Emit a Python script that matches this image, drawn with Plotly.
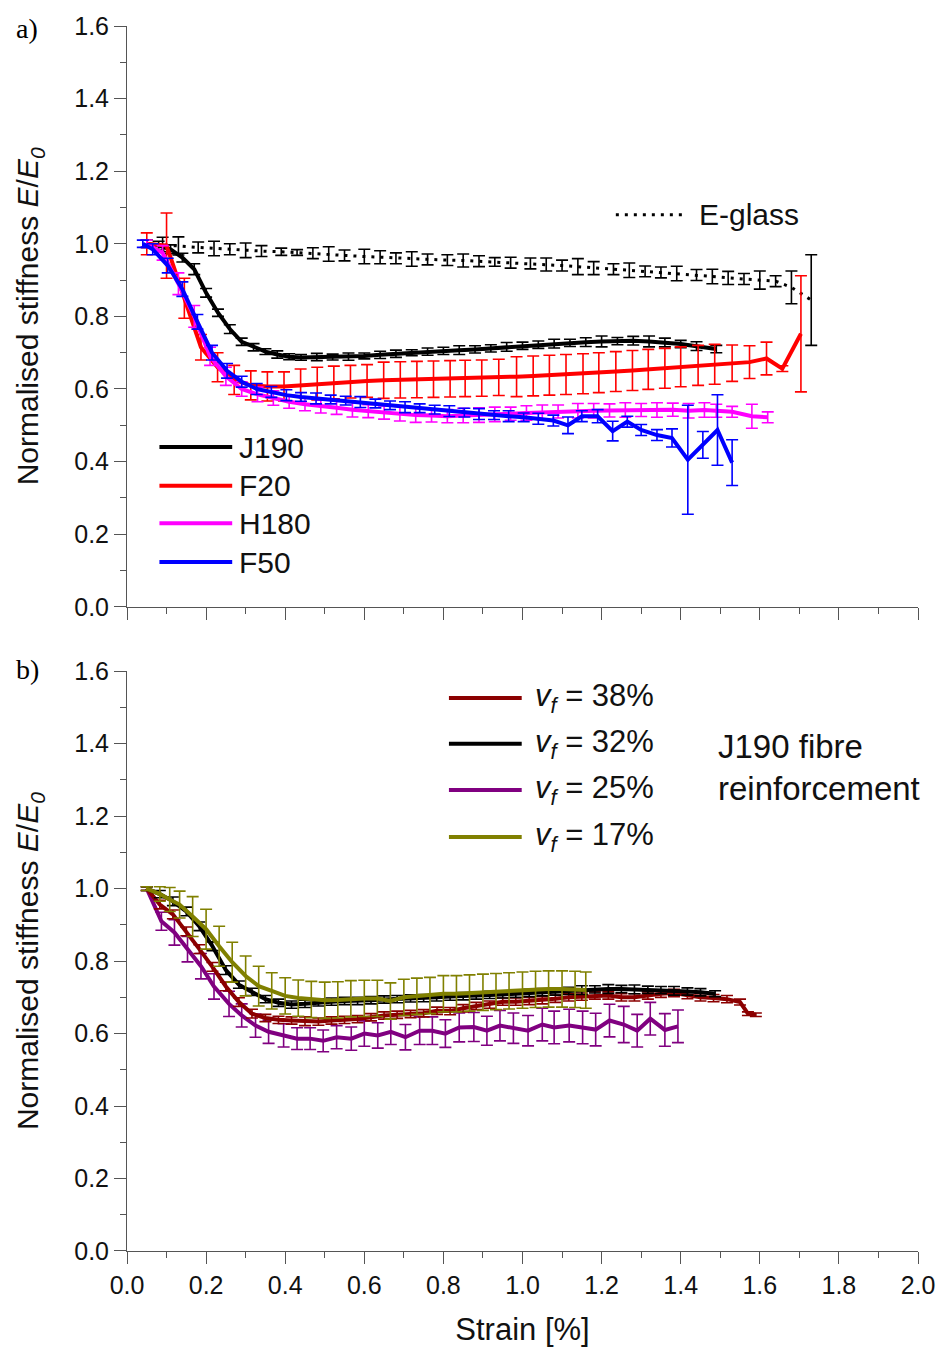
import plotly.graph_objects as go

# ---------------- Panel a: fibre types ----------------
EG_x = [0.05, 0.09, 0.13, 0.18, 0.22, 0.26, 0.30, 0.34, 0.39, 0.43,
        0.47, 0.51, 0.55, 0.60, 0.64, 0.68, 0.72, 0.76, 0.81, 0.85,
        0.89, 0.93, 0.97, 1.02, 1.06, 1.10, 1.14, 1.18, 1.23, 1.27,
        1.31, 1.35, 1.39, 1.44, 1.48, 1.52, 1.56, 1.60, 1.64, 1.68, 1.73]
EG_y = [1.00, 0.998, 0.994, 0.99, 0.987, 0.985, 0.982, 0.98, 0.978, 0.976,
        0.974, 0.972, 0.968, 0.965, 0.963, 0.96, 0.958, 0.957, 0.955, 0.954,
        0.952, 0.95, 0.948, 0.946, 0.943, 0.94, 0.937, 0.933, 0.93, 0.927,
        0.924, 0.921, 0.918, 0.914, 0.91, 0.906, 0.903, 0.90, 0.897, 0.88, 0.845]
EG_err = [0.01, 0.02, 0.025, 0.015, 0.02, 0.015, 0.02, 0.015, 0.01, 0.008,
          0.015, 0.02, 0.015, 0.02, 0.018, 0.015, 0.02, 0.015, 0.015, 0.018,
          0.015, 0.012, 0.015, 0.015, 0.018, 0.015, 0.022, 0.018, 0.015, 0.02,
          0.015, 0.015, 0.02, 0.015, 0.02, 0.018, 0.015, 0.025, 0.015, 0.045, 0.125]

J190_x = [0.05, 0.08, 0.11, 0.14, 0.17, 0.20, 0.23, 0.26, 0.29, 0.32,
          0.35, 0.38, 0.41, 0.44, 0.48, 0.52, 0.56, 0.60, 0.64, 0.68,
          0.72, 0.76, 0.80, 0.84, 0.88, 0.92, 0.96, 1.00, 1.04, 1.08,
          1.12, 1.16, 1.20, 1.24, 1.28, 1.32, 1.36, 1.40, 1.44, 1.49]
J190_y = [1.00, 0.995, 0.985, 0.962, 0.93, 0.865, 0.81, 0.765, 0.73, 0.715,
          0.703, 0.695, 0.689, 0.687, 0.688, 0.688, 0.689, 0.691, 0.694, 0.697,
          0.70, 0.703, 0.705, 0.707, 0.709, 0.712, 0.716, 0.719, 0.722, 0.725,
          0.727, 0.729, 0.731, 0.732, 0.733, 0.731, 0.728, 0.724, 0.718, 0.71]
J190_err = [0.01, 0.012, 0.012, 0.012, 0.015, 0.012, 0.01, 0.012, 0.01, 0.01,
            0.008, 0.01, 0.008, 0.008, 0.01, 0.008, 0.01, 0.008, 0.01, 0.01,
            0.008, 0.01, 0.01, 0.012, 0.01, 0.01, 0.012, 0.01, 0.01, 0.012,
            0.01, 0.012, 0.015, 0.01, 0.012, 0.015, 0.012, 0.01, 0.012, 0.01]

F20_x = [0.05, 0.10, 0.145, 0.187, 0.229, 0.271, 0.313, 0.355, 0.397, 0.439,
         0.481, 0.523, 0.565, 0.607, 0.649, 0.691, 0.733, 0.775, 0.817, 0.855,
         0.897, 0.94, 0.985, 1.027, 1.068, 1.11, 1.153, 1.193, 1.236, 1.278,
         1.318, 1.36, 1.40, 1.444, 1.486, 1.53, 1.574, 1.617, 1.657, 1.704]
F20_y = [1.00, 0.995, 0.85, 0.715, 0.66, 0.625, 0.61, 0.607, 0.607, 0.61,
         0.615, 0.618, 0.62, 0.622, 0.624, 0.625, 0.626, 0.627, 0.628, 0.629,
         0.63, 0.632, 0.634, 0.636, 0.638, 0.64, 0.642, 0.645, 0.648, 0.651,
         0.654, 0.657, 0.661, 0.665, 0.668, 0.671, 0.674, 0.684, 0.656, 0.752]
F20_err = [0.03, 0.09, 0.055, 0.035, 0.04, 0.04, 0.04, 0.04, 0.04, 0.045,
           0.045, 0.045, 0.045, 0.045, 0.05, 0.05, 0.05, 0.05, 0.05, 0.05,
           0.05, 0.05, 0.055, 0.055, 0.055, 0.055, 0.055, 0.055, 0.055, 0.055,
           0.055, 0.055, 0.055, 0.055, 0.055, 0.05, 0.045, 0.045, 0.008, 0.16]

H180_x = [0.05, 0.09, 0.13, 0.17, 0.21, 0.25, 0.29, 0.33, 0.37, 0.41,
          0.45, 0.49, 0.53, 0.57, 0.61, 0.65, 0.69, 0.73, 0.77, 0.81,
          0.85, 0.89, 0.93, 0.97, 1.01, 1.05, 1.09, 1.14, 1.18, 1.22,
          1.26, 1.30, 1.34, 1.38, 1.42, 1.46, 1.49, 1.53, 1.58, 1.62]
H180_y = [1.00, 0.975, 0.89, 0.80, 0.69, 0.635, 0.60, 0.585, 0.575, 0.565,
          0.558, 0.552, 0.548, 0.543, 0.539, 0.535, 0.532, 0.528, 0.527, 0.525,
          0.527, 0.528, 0.53, 0.532, 0.534, 0.536, 0.538, 0.54, 0.54, 0.541,
          0.542, 0.542, 0.542, 0.543, 0.54, 0.542, 0.54, 0.537, 0.525, 0.522]
H180_err = [0.01, 0.02, 0.03, 0.03, 0.025, 0.025, 0.02, 0.02, 0.02, 0.018,
            0.018, 0.018, 0.018, 0.02, 0.018, 0.018, 0.02, 0.02, 0.018, 0.018,
            0.02, 0.02, 0.02, 0.018, 0.02, 0.02, 0.018, 0.02, 0.02, 0.018,
            0.02, 0.018, 0.02, 0.018, 0.02, 0.02, 0.018, 0.015, 0.033, 0.015]

F50_x = [0.04, 0.065, 0.103, 0.14, 0.178, 0.215, 0.253, 0.29, 0.328, 0.365,
         0.403, 0.44, 0.478, 0.515, 0.553, 0.59, 0.628, 0.665, 0.703, 0.74,
         0.778, 0.815, 0.853, 0.89, 0.928, 0.965, 1.003, 1.04, 1.078, 1.115,
         1.15, 1.19, 1.228, 1.265, 1.30, 1.34, 1.378, 1.418, 1.456, 1.493, 1.53]
F50_y = [1.00, 0.985, 0.94, 0.875, 0.785, 0.70, 0.65, 0.62, 0.60, 0.592,
         0.583, 0.578, 0.574, 0.571, 0.568, 0.564, 0.56, 0.555, 0.55, 0.547,
         0.543, 0.539, 0.535, 0.531, 0.528, 0.525, 0.522, 0.518, 0.513, 0.50,
         0.525, 0.525, 0.484, 0.51, 0.487, 0.473, 0.465, 0.405, 0.446, 0.487, 0.397]
F50_err = [0.01, 0.015, 0.02, 0.02, 0.02, 0.02, 0.02, 0.015, 0.015, 0.015,
           0.015, 0.012, 0.015, 0.012, 0.012, 0.015, 0.012, 0.012, 0.015, 0.012,
           0.012, 0.015, 0.012, 0.015, 0.012, 0.015, 0.012, 0.015, 0.015, 0.023,
           0.015, 0.018, 0.027, 0.015, 0.015, 0.015, 0.025, 0.15, 0.037, 0.097, 0.063]

# ---------------- Panel b: J190 at several fibre volume fractions ----------------
V38_x = [0.05, 0.083, 0.116, 0.15, 0.183, 0.216, 0.25, 0.283, 0.316, 0.35,
         0.383, 0.416, 0.45, 0.484, 0.517, 0.55, 0.583, 0.617, 0.65, 0.683,
         0.717, 0.75, 0.784, 0.817, 0.85, 0.883, 0.917, 0.95, 0.983, 1.017,
         1.05, 1.083, 1.117, 1.15, 1.183, 1.217, 1.25, 1.283, 1.317, 1.35,
         1.383, 1.417, 1.45, 1.483, 1.517, 1.55, 1.57, 1.59]
V38_y = [1.00, 0.956, 0.929, 0.882, 0.833, 0.784, 0.73, 0.687, 0.655, 0.643,
         0.638, 0.636, 0.634, 0.633, 0.636, 0.638, 0.64, 0.645, 0.65, 0.652,
         0.654, 0.656, 0.663, 0.662, 0.67, 0.676, 0.68, 0.688, 0.688, 0.69,
         0.692, 0.696, 0.70, 0.702, 0.705, 0.705, 0.70, 0.70, 0.705, 0.71,
         0.712, 0.706, 0.70, 0.698, 0.695, 0.687, 0.655, 0.652]
V38_err = [0.005, 0.012, 0.012, 0.012, 0.012, 0.012, 0.012, 0.012, 0.012, 0.01,
           0.01, 0.01, 0.012, 0.01, 0.01, 0.01, 0.01, 0.01, 0.01, 0.01,
           0.01, 0.01, 0.01, 0.01, 0.01, 0.01, 0.01, 0.01, 0.01, 0.01,
           0.01, 0.01, 0.01, 0.01, 0.01, 0.01, 0.01, 0.01, 0.01, 0.01,
           0.01, 0.01, 0.01, 0.01, 0.01, 0.008, 0.005, 0.005]

V32_x = [0.05, 0.083, 0.116, 0.15, 0.183, 0.216, 0.25, 0.283, 0.316, 0.35,
         0.383, 0.416, 0.45, 0.484, 0.517, 0.55, 0.583, 0.617, 0.65, 0.683,
         0.717, 0.75, 0.783, 0.817, 0.85, 0.883, 0.917, 0.95, 0.983, 1.017,
         1.05, 1.083, 1.117, 1.15, 1.183, 1.217, 1.25, 1.283, 1.317, 1.35,
         1.383, 1.417, 1.45, 1.487]
V32_y = [1.00, 0.985, 0.965, 0.937, 0.896, 0.841, 0.775, 0.735, 0.715, 0.695,
         0.685, 0.68, 0.682, 0.686, 0.688, 0.69, 0.69, 0.692, 0.694, 0.695,
         0.697, 0.698, 0.70, 0.702, 0.703, 0.705, 0.707, 0.708, 0.71, 0.712,
         0.714, 0.716, 0.718, 0.72, 0.722, 0.723, 0.723, 0.722, 0.721, 0.72,
         0.718, 0.716, 0.714, 0.71]
V32_err = [0.005, 0.01, 0.012, 0.012, 0.012, 0.012, 0.012, 0.01, 0.01, 0.01,
           0.01, 0.01, 0.01, 0.01, 0.01, 0.01, 0.01, 0.01, 0.01, 0.01,
           0.01, 0.01, 0.01, 0.01, 0.01, 0.01, 0.01, 0.01, 0.01, 0.01,
           0.01, 0.01, 0.01, 0.012, 0.01, 0.012, 0.01, 0.012, 0.01, 0.01,
           0.012, 0.01, 0.01, 0.008]

V25_x = [0.05, 0.087, 0.12, 0.153, 0.187, 0.22, 0.258, 0.29, 0.325, 0.358,
         0.396, 0.43, 0.463, 0.496, 0.53, 0.567, 0.60, 0.634, 0.667, 0.704,
         0.74, 0.772, 0.805, 0.84, 0.877, 0.91, 0.943, 0.977, 1.014, 1.05,
         1.08, 1.118, 1.152, 1.185, 1.22, 1.256, 1.29, 1.323, 1.36, 1.393]
V25_y = [1.00, 0.91, 0.879, 0.833, 0.786, 0.73, 0.682, 0.65, 0.622, 0.605,
         0.595, 0.586, 0.586, 0.58, 0.59, 0.586, 0.60, 0.595, 0.605, 0.59,
         0.608, 0.608, 0.60, 0.617, 0.618, 0.608, 0.622, 0.615, 0.608, 0.625,
         0.617, 0.622, 0.617, 0.611, 0.636, 0.625, 0.608, 0.641, 0.61, 0.62]
V25_err = [0.005, 0.025, 0.035, 0.035, 0.035, 0.035, 0.035, 0.032, 0.032, 0.032,
           0.032, 0.03, 0.03, 0.03, 0.032, 0.032, 0.035, 0.035, 0.035, 0.035,
           0.038, 0.038, 0.038, 0.04, 0.04, 0.04, 0.042, 0.042, 0.042, 0.045,
           0.045, 0.045, 0.045, 0.045, 0.045, 0.05, 0.045, 0.045, 0.045, 0.045]

V17_x = [0.05, 0.083, 0.108, 0.133, 0.166, 0.20, 0.233, 0.266, 0.30, 0.333,
         0.366, 0.40, 0.433, 0.466, 0.50, 0.533, 0.566, 0.60, 0.633, 0.666,
         0.70, 0.733, 0.766, 0.80, 0.833, 0.866, 0.90, 0.933, 0.966, 1.00,
         1.033, 1.066, 1.10, 1.133, 1.16]
V17_y = [1.00, 0.985, 0.97, 0.956, 0.923, 0.888, 0.841, 0.797, 0.759, 0.731,
         0.718, 0.704, 0.698, 0.694, 0.692, 0.693, 0.696, 0.697, 0.697, 0.69,
         0.70, 0.703, 0.705, 0.71, 0.71, 0.712, 0.714, 0.716, 0.718, 0.72,
         0.722, 0.723, 0.723, 0.722, 0.72]
V17_err = [0.005, 0.02, 0.033, 0.037, 0.055, 0.055, 0.055, 0.055, 0.055, 0.055,
           0.05, 0.05, 0.05, 0.05, 0.05, 0.05, 0.05, 0.05, 0.05, 0.05,
           0.05, 0.05, 0.05, 0.05, 0.05, 0.05, 0.05, 0.05, 0.05, 0.05,
           0.05, 0.05, 0.05, 0.05, 0.05]

SANS = "Liberation Sans, Arial, sans-serif"
SERIF = "Liberation Serif, Times New Roman, serif"

fig = go.Figure()


def add_series(x, y, err, color, xa, ya, dash="solid", width=4):
    fig.add_trace(go.Scatter(
        x=x, y=y, mode="lines", xaxis=xa, yaxis=ya, showlegend=False,
        line=dict(color=color, width=width, dash=dash),
        error_y=dict(type="data", array=err, visible=True,
                     color=color, thickness=1.6, width=6),
    ))


# panel a
add_series(EG_x, EG_y, EG_err, "black", "x", "y", dash="3px,6px", width=3)
add_series(J190_x, J190_y, J190_err, "black", "x", "y")
add_series(F20_x, F20_y, F20_err, "#FF0000", "x", "y")
add_series(H180_x, H180_y, H180_err, "#FF00FF", "x", "y")
add_series(F50_x, F50_y, F50_err, "#0000FF", "x", "y")

# panel b
add_series(V25_x, V25_y, V25_err, "#800080", "x2", "y2")
add_series(V38_x, V38_y, V38_err, "#8B0000", "x2", "y2")
add_series(V32_x, V32_y, V32_err, "black", "x2", "y2")
add_series(V17_x, V17_y, V17_err, "#808000", "x2", "y2")

axis_common = dict(
    range=[0, 2.0], dtick=0.2, tick0=0, tickformat=".1f",
    showline=True, linecolor="#555", linewidth=1,
    ticks="outside", ticklen=12, tickcolor="#555", tickwidth=1,
    minor=dict(dtick=0.1, ticks="outside", ticklen=6, tickcolor="#555"),
    showgrid=False, zeroline=False, ticklabeloverflow="allow",
    tickfont=dict(family=SANS, size=25, color="#111"),
)
yaxis_common = dict(
    range=[0, 1.6], dtick=0.2, tick0=0, tickformat=".1f",
    showline=True, linecolor="#555", linewidth=1,
    ticks="outside", ticklen=12, tickcolor="#555", tickwidth=1,
    minor=dict(dtick=0.1, ticks="outside", ticklen=6, tickcolor="#555"),
    showgrid=False, zeroline=False, ticklabeloverflow="allow",
    tickfont=dict(family=SANS, size=25, color="#111"),
)
ytitle = dict(text="Normalised stiffness <i>E</i>/<i>E</i><sub><i>0</i></sub>",
              font=dict(family=SANS, size=30, color="#111"), standoff=26)

fig.update_layout(
    width=947, height=1353,
    margin=dict(l=127, r=22, t=20, b=99),
    paper_bgcolor="white", plot_bgcolor="white",
    xaxis=dict(axis_common, anchor="y", domain=[0, 1], showticklabels=False),
    yaxis=dict(yaxis_common, anchor="x", domain=[0.5259, 1.0], title=ytitle),
    xaxis2=dict(axis_common, anchor="y2", domain=[0, 1],
                title=dict(text="Strain [%]", font=dict(family=SANS, size=31, color="#111"),
                           standoff=20)),
    yaxis2=dict(yaxis_common, anchor="x2", domain=[0, 0.4733], title=ytitle),
)

# legend keys drawn inside each panel
shapes = []
annotations = []


def legend_key(xa, ya, x0, x1, y, color, label, dash="solid", width=4, tx=None, size=30):
    shapes.append(dict(type="line", xref=f"{xa} domain", yref=f"{ya} domain",
                       x0=x0, x1=x1, y0=y, y1=y,
                       line=dict(color=color, width=width, dash=dash)))
    annotations.append(dict(xref=f"{xa} domain", yref=f"{ya} domain",
                            x=tx, y=y, text=label, showarrow=False,
                            xanchor="left", yanchor="middle",
                            font=dict(family=SANS, size=size, color="#111")))


legend_a = [("J190", "black", 0.275), ("F20", "#FF0000", 0.2085),
            ("H180", "#FF00FF", 0.1436), ("F50", "#0000FF", 0.0769)]
for name, col, yy in legend_a:
    legend_key("x", "y", 0.041, 0.133, yy, col, name, tx=0.139)
legend_key("x", "y", 0.618, 0.706, 0.675, "black", "E-glass",
           dash="3px,6px", width=3, tx=0.72)

legend_b = [("38%", "#8B0000", 0.954), ("32%", "black", 0.875),
            ("25%", "#800080", 0.795), ("17%", "#808000", 0.714)]
for pct, col, yy in legend_b:
    legend_key("x2", "y2", 0.407, 0.499, yy, col,
               f"<i>v</i><sub><i>f</i></sub> = {pct}", tx=0.513, size=31)

for txt, yy in [("J190 fibre", 0.870), ("reinforcement", 0.798)]:
    annotations.append(dict(xref="x2 domain", yref="y2 domain", x=0.744, y=yy,
                            text=txt, showarrow=False, xanchor="left",
                            yanchor="middle", font=dict(family=SANS, size=33, color="#111")))

# panel letters
for letter, yy in [("a)", 0.998), ("b)", 0.475)]:
    annotations.append(dict(xref="paper", yref="paper", x=-0.143, y=yy, text=letter,
                            showarrow=False, xanchor="left", yanchor="middle",
                            font=dict(family=SERIF, size=28, color="black")))

fig.update_layout(shapes=shapes, annotations=annotations)
fig.write_html("out.html")
